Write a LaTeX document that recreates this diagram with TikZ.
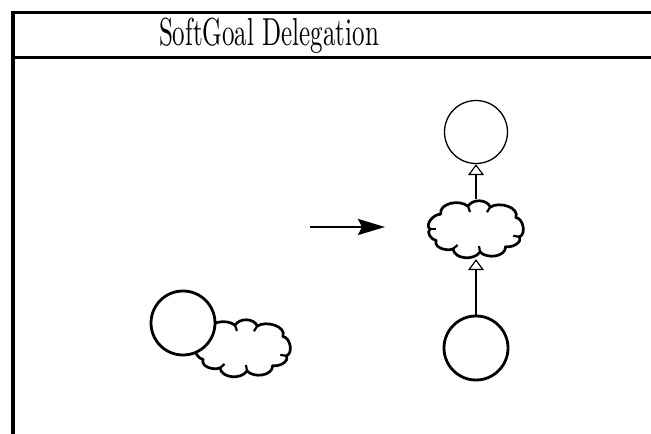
\documentclass[tikz,border=0pt]{standalone}
\usetikzlibrary{arrows.meta,shapes.geometric,calc}
\tikzset{
  frameline/.style={line width=3.2pt},
  thickc/.style={circle, draw, line width=2.8pt, fill=white, minimum size=64pt, inner sep=0pt},
  thinc/.style={circle, draw, line width=1.3pt, fill=white, minimum size=63pt, inner sep=0pt},
  cloudarea/.style={ellipse, minimum width=102pt, minimum height=60pt, inner sep=0pt},
  conn/.style={line width=1.4pt, -{Triangle[open, length=11pt, width=16pt, line width=1.2pt]}},
  mainarrow/.style={line width=2.6pt, -{Stealth[length=27pt, width=16pt, inset=4pt]}},
  cloudpic/.pic={
    \draw[line width=2.7pt, fill=white, line join=round]
      (30:46 and 23)
      \foreach \a/\b in {30/72,72/100,100/140,140/180,180/210,210/240,240/275,275/310,310/340,340/390}
        { to[out=\a+38,in=\b-38] (\b:46 and 23) } -- cycle;
    \foreach \a in {72,100,180,240,275,340}
      { \draw[line width=2.2pt] (\a:46 and 23) -- ($(\a:46 and 23)!6pt!(0,0)$); }
  }
}
\begin{document}
\begin{tikzpicture}[x=1pt,y=1pt]
  \useasboundingbox (0,0) rectangle (651,434);
  \begin{scope}
  \clip (0,0) rectangle (651,434);
  % frame
  \draw[frameline] (670,421.5) -- (13,421.5) -- (13,-20);
  \draw[frameline] (13,376.5) -- (670,376.5);
  \node[anchor=base, inner sep=0pt] (title) at (269,388)
    {\scalebox{2.5}[3.9]{SoftGoal Delegation}};

  % left: circle over cloud
  \pic at (243,86) {cloudpic};
  \node[cloudarea] (lcl) at (243,86) {};
  \node[thickc] (lc) at (183,111) {};

  % transformation arrow
  \coordinate (a1) at (310,207);
  \coordinate (a2) at (385,207);
  \draw[mainarrow] (a1) -- (a2);

  % right: delegation chain
  \node[thinc] (tc) at (476,302) {};
  \pic at (476,205) {cloudpic};
  \node[cloudarea] (rcl) at (476,205) {};
  \node[thickc] (bc) at (476,86) {};
  \draw[conn] (rcl.north) -- (tc.south);
  \draw[conn] (bc.north) -- (rcl.south);
  \end{scope}
\end{tikzpicture}
\end{document}
